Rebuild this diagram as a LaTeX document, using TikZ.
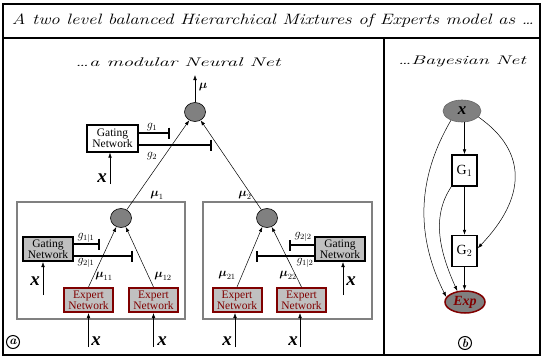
\documentclass[tikz,border=0pt]{standalone}
\usepackage{fontspec}
\usepackage{amsmath}
\usetikzlibrary{arrows.meta,shapes.geometric}
\newfontfamily\tnr{Liberation Serif}
\definecolor{dred}{HTML}{800000}
\definecolor{mgray}{HTML}{808080}
\definecolor{lgray}{HTML}{C0C0C0}
\tikzset{
 arr/.style={-{Latex[length=5pt,width=3.6pt]}, line width=0.5pt},
 gbar/.style={-{Bar[width=11pt]}, line width=1.6pt},
 nncirc/.style={ellipse, draw=black, line width=0.6pt, fill=mgray, minimum width=21pt, minimum height=19pt, inner sep=0pt},
 gate0/.style={draw, line width=1.2pt, fill=white, minimum width=51pt, minimum height=27pt, inner sep=0pt, align=center, font=\tnr\fontsize{11.5}{11}\selectfont},
 gate/.style={draw, line width=2pt, fill=lgray, minimum width=50pt, minimum height=24pt, inner sep=0pt, align=center, font=\tnr\fontsize{11.5}{11}\selectfont},
 expert/.style={draw=dred, line width=2pt, fill=lgray, minimum width=49pt, minimum height=24pt, inner sep=0pt, align=center, text=dred, font=\tnr\fontsize{11.5}{11}\selectfont},
 xlab/.style={font=\tnr\bfseries\itshape\fontsize{19}{19}\selectfont, inner sep=0pt},
 lab/.style={font=\fontsize{12}{12}\selectfont, inner sep=0pt},
 subbox/.style={draw=mgray, line width=2pt},
 hand/.style={font=\itshape, inner sep=0pt},
 circled/.style={circle, draw, line width=1pt, minimum size=13pt, inner sep=0pt, font=\itshape\bfseries\fontsize{12}{12}\selectfont},
 gbox/.style={draw, line width=1.5pt, fill=white, minimum width=25pt, minimum height=31pt, inner sep=0pt, font=\tnr\fontsize{14}{14}\selectfont},
 bnode/.style={ellipse, fill=mgray, inner sep=0pt, minimum height=22pt},
}
\begin{document}
\begin{tikzpicture}[x=1pt,y=-1pt]
\useasboundingbox (0,0) rectangle (545,361);
% frame
\draw[line width=2pt] (3,4) rectangle (540,355);
\draw[line width=2pt] (3,38) -- (540,38);
\draw[line width=2pt] (384,38) -- (384,355);
\node[hand] (title) at (273,21) {\resizebox{522pt}{\height}{\fontsize{15}{15}\selectfont A two level balanced Hierarchical Mixtures of Experts model as \dots}};
\node[hand] (sub1) at (178,62) {\resizebox{205pt}{\height}{\fontsize{12.5}{12}\selectfont \dots a modular Neural Net}};
\node[hand] (sub2) at (462,62) {\resizebox{128pt}{\height}{\fontsize{12.5}{12}\selectfont \dots Bayesian Net}};

% ---- top level
\node[nncirc] (T) at (195,112) {};
\coordinate (mu0) at (195,75);
\draw[arr] (T) -- (mu0);
\node[lab] (lmu) at (203,87) {$\boldsymbol{\mu}$};
\node[gate0] (G0) at (112.5,138.5) {Gating\\Network};
\coordinate (g1e) at (170,133);
\coordinate (g2e) at (212,145);
\draw[gbar] (G0.east |- g1e) -- (g1e);
\draw[gbar] (G0.east |- g2e) -- (g2e);
\node[lab] (lg1) at (152,127) {$g_1$};
\node[lab] (lg2) at (152,156) {$g_2$};
\coordinate (x0) at (110,184);
\draw[arr] (x0) -- (x0 |- G0.south);
\node[xlab] (lx0) at (102,178) {x};

% sub boxes
\draw[subbox] (17,202) rectangle (185,319);
\draw[subbox] (203,202) rectangle (372,319);

\node[nncirc] (C1) at (121,218) {};
\node[nncirc] (C2) at (267,218) {};
\draw[arr] (C1) -- (T);
\draw[arr] (C2) -- (T);
\node[lab] (lmu1) at (157,195) {$\boldsymbol{\mu}_1$};
\node[lab] (lmu2) at (245,195) {$\boldsymbol{\mu}_2$};

% ---- left sub-box
\node[gate] (GL) at (48,249) {Gating\\Network};
\coordinate (g11e) at (100,244);
\coordinate (g21e) at (133,256);
\draw[gbar] (GL.east |- g11e) -- (g11e);
\draw[gbar] (GL.east |- g21e) -- (g21e);
\node[lab] (lg11) at (86,238) {$g_{1|1}$};
\node[lab] (lg21) at (86,263) {$g_{2|1}$};
\coordinate (xl) at (43,295);
\draw[arr] (xl) -- (xl |- GL.south);
\node[xlab] (lxl) at (35,281) {x};
\node[expert] (E11) at (88.5,300) {Expert\\Network};
\node[expert] (E12) at (153.5,300) {Expert\\Network};
\draw[arr] (E11.north) -- (C1.242);
\draw[arr] (E12.north) -- (C1.298);
\node[lab] (lmu11) at (104,276) {$\boldsymbol{\mu}_{11}$};
\node[lab] (lmu12) at (163,276) {$\boldsymbol{\mu}_{12}$};
\coordinate (xe11) at (88.5,347);
\coordinate (xe12) at (153.5,347);
\draw[arr] (xe11) -- (E11.south);
\draw[arr] (xe12) -- (E12.south);
\node[xlab] (lxe11) at (96,341) {x};
\node[xlab] (lxe12) at (162,341) {x};

% ---- right sub-box
\node[gate] (GR) at (340,249) {Gating\\Network};
\coordinate (g22e) at (289,245);
\coordinate (g12e) at (256,256);
\draw[gbar] (GR.west |- g22e) -- (g22e);
\draw[gbar] (GR.west |- g12e) -- (g12e);
\node[lab] (lg22) at (303,237) {$g_{2|2}$};
\node[lab] (lg12) at (305,263) {$g_{1|2}$};
\coordinate (xr) at (343,295);
\draw[arr] (xr) -- (xr |- GR.south);
\node[xlab] (lxr) at (351,281) {x};
\node[expert] (E21) at (237,300) {Expert\\Network};
\node[expert] (E22) at (301.5,300) {Expert\\Network};
\draw[arr] (E21.north) -- (C2.242);
\draw[arr] (E22.north) -- (C2.298);
\node[lab] (lmu21) at (227,275) {$\boldsymbol{\mu}_{21}$};
\node[lab] (lmu22) at (288,275) {$\boldsymbol{\mu}_{22}$};
\coordinate (xe21) at (235,347);
\coordinate (xe22) at (300,347);
\draw[arr] (xe21) -- (xe21 |- E21.south);
\draw[arr] (xe22) -- (xe22 |- E22.south);
\node[xlab] (lxe21) at (227,341) {x};
\node[xlab] (lxe22) at (293,341) {x};

\node[circled] (ca) at (13,342) {a};

% ---- Bayesian net
\node[bnode, draw=black!60, line width=0.6pt, minimum width=38pt] (X) at (462,111) {\tnr\bfseries\itshape\fontsize{17}{17}\selectfont x};
\node[gbox] (B1) at (464.5,170.5) {G$_1$};
\node[gbox] (B2) at (464.5,251) {G$_2$};
\node[bnode, draw=dred, line width=1.5pt, minimum width=40pt, text=dred] (Exp) at (465,302) {\tnr\bfseries\itshape\fontsize{14}{14}\selectfont Exp};
\draw[arr] (X.south -| B1) -- (B1);
\draw[arr] (B1) -- (B2);
\draw[arr] (B2) -- (Exp.north -| B2);
\draw[arr] (X.220) .. controls +(-35,60) and +(-30,-60) .. (Exp.165);
\draw[arr] (B1.south west) .. controls +(-20,30) and +(-18,-40) .. (Exp.125);
\draw[arr] (X.-20) .. controls +(50,35) and +(48,-50) .. (B2.12);
\node[circled] (cb) at (465,343) {b};
\end{tikzpicture}
\end{document}
